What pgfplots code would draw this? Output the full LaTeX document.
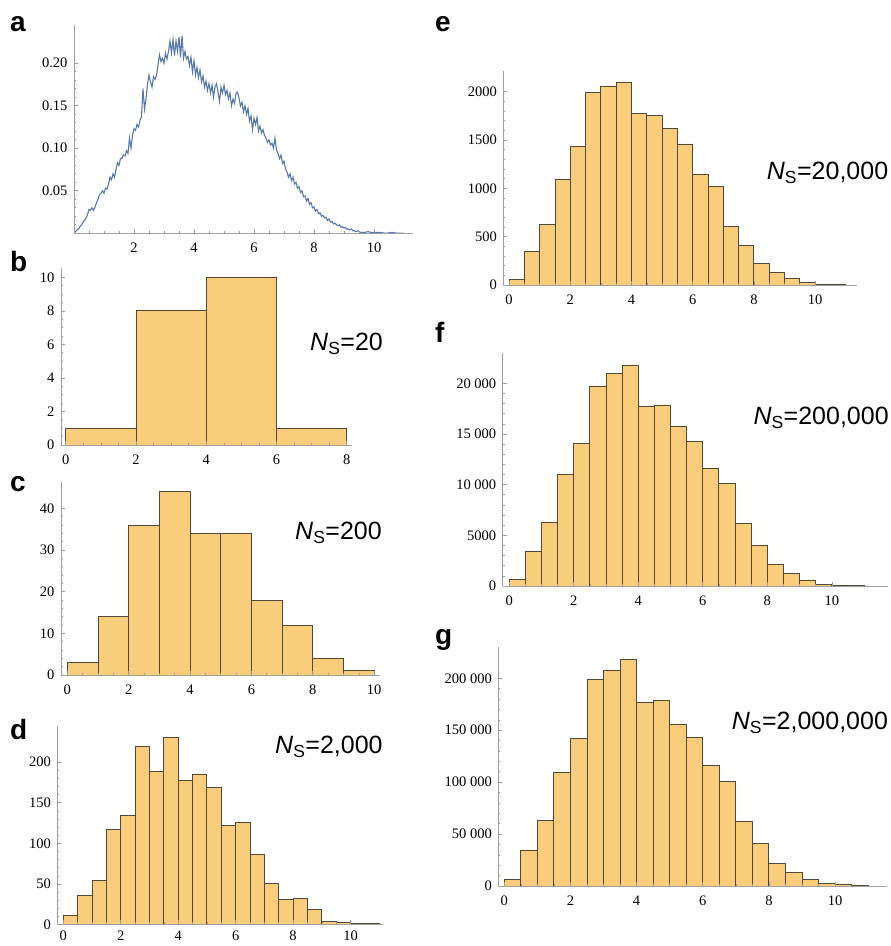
\documentclass[border=0pt]{standalone}
\usepackage{fontspec}
\setmainfont{Liberation Serif}
\newfontfamily\hv{Liberation Sans}
\usepackage{pgfplots}
\pgfplotsset{compat=1.18}
\definecolor{barfill}{RGB}{249,205,124}
\definecolor{baredge}{RGB}{80,72,56}
\definecolor{curveblue}{RGB}{88,120,172}
\pgfplotsset{
  mma/.style={
    scale only axis,
    axis on top,
    axis lines=left,
    axis line style={-, draw=gray!75, line width=0.8pt},
    tick align=inside,
    major tick length=4pt,
    minor tick length=2pt,
    every tick/.style={gray!80, line width=0.6pt},
    tick label style={font=\fontsize{14.5}{16}\selectfont},
    /pgf/number format/assume math mode=true,
    /pgf/number format/1000 sep={},
    scaled y ticks=false,
    xticklabel style={yshift=-6pt},
    yticklabel style={xshift=-3pt},
    minor x tick num=3,
    minor y tick num=4,
    clip=false,
  },
  hist/.style={ybar interval, fill=barfill, draw=baredge, line width=0.9pt},
}
\tikzset{
  ns/.style={anchor=base west, inner sep=0pt, font=\hv\fontsize{25}{30}\selectfont},
  pl/.style={anchor=base west, inner sep=0pt, font=\hv\bfseries\fontsize{28}{32}\selectfont},
}
\begin{document}
\begin{tikzpicture}[x=1pt,y=1pt]
\useasboundingbox (0,0) rectangle (891,946);

% ---------- a ----------
\begin{axis}[mma, at={(74pt,712.7pt)}, anchor=south west,
  width=339pt, height=208.3pt,
  xmin=0, xmax=11.3, ymin=0, ymax=0.245,
  xtick={0,2,4,6,8,10}, xticklabels={,2,4,6,8,10},
  ytick={0,0.05,0.10,0.15,0.20}, yticklabels={,0.05,0.10,0.15,0.20}]
\addplot[color=curveblue, line width=1.1pt] coordinates {
(0.00,0.000)(0.05,0.002)(0.10,0.004)(0.15,0.005)(0.20,0.008)(0.25,0.010)(0.30,0.013)(0.35,0.015)(0.40,0.018)(0.45,0.022)
(0.50,0.028)(0.55,0.027)(0.60,0.030)(0.65,0.027)(0.70,0.031)(0.75,0.036)(0.80,0.040)(0.85,0.045)(0.90,0.047)(0.95,0.050)
(1.00,0.047)(1.05,0.053)(1.10,0.052)(1.15,0.058)(1.20,0.066)(1.25,0.063)(1.30,0.070)(1.35,0.066)(1.40,0.075)(1.45,0.083)
(1.50,0.080)(1.55,0.088)(1.60,0.088)(1.65,0.092)(1.70,0.091)(1.75,0.097)(1.80,0.094)(1.85,0.112)(1.90,0.100)(1.95,0.115)
(2.00,0.123)(2.05,0.121)(2.10,0.128)(2.15,0.125)(2.20,0.133)(2.25,0.137)(2.30,0.170)(2.35,0.146)(2.40,0.158)(2.45,0.175)
(2.50,0.186)(2.55,0.178)(2.60,0.172)(2.65,0.184)(2.70,0.181)(2.75,0.186)(2.80,0.198)(2.85,0.210)(2.90,0.202)(2.95,0.206)
(3.00,0.200)(3.05,0.212)(3.10,0.205)(3.15,0.214)(3.20,0.226)(3.25,0.212)(3.30,0.228)(3.35,0.209)(3.40,0.226)(3.45,0.214)
(3.50,0.231)(3.55,0.207)(3.60,0.232)(3.65,0.206)(3.70,0.214)(3.75,0.205)(3.80,0.208)(3.85,0.197)(3.90,0.207)(3.95,0.190)
(4.00,0.203)(4.05,0.186)(4.10,0.195)(4.15,0.183)(4.20,0.192)(4.25,0.178)(4.30,0.185)(4.35,0.172)(4.40,0.179)(4.45,0.168)
(4.50,0.176)(4.55,0.165)(4.60,0.174)(4.65,0.160)(4.70,0.172)(4.75,0.176)(4.80,0.166)(4.85,0.155)(4.90,0.172)(4.95,0.165)
(5.00,0.174)(5.05,0.163)(5.10,0.168)(5.15,0.158)(5.20,0.165)(5.25,0.150)(5.30,0.158)(5.35,0.153)(5.40,0.164)(5.45,0.166)
(5.50,0.159)(5.55,0.150)(5.60,0.154)(5.65,0.143)(5.70,0.150)(5.75,0.140)(5.80,0.147)(5.85,0.132)(5.90,0.138)(5.95,0.122)
(6.00,0.135)(6.05,0.128)(6.10,0.136)(6.15,0.120)(6.20,0.126)(6.25,0.118)(6.30,0.122)(6.35,0.115)(6.40,0.112)(6.45,0.107)
(6.50,0.110)(6.55,0.104)(6.60,0.106)(6.65,0.100)(6.70,0.112)(6.75,0.098)(6.80,0.094)(6.85,0.088)(6.90,0.092)(6.95,0.082)
(7.00,0.085)(7.05,0.076)(7.10,0.072)(7.15,0.066)(7.20,0.070)(7.25,0.062)(7.30,0.066)(7.35,0.058)(7.40,0.060)(7.45,0.053)
(7.50,0.055)(7.55,0.048)(7.60,0.050)(7.65,0.043)(7.70,0.044)(7.75,0.038)(7.80,0.041)(7.85,0.034)(7.90,0.036)(7.95,0.030)
(8.00,0.031)(8.05,0.026)(8.10,0.028)(8.15,0.023)(8.20,0.024)(8.25,0.020)(8.30,0.021)(8.35,0.018)(8.40,0.019)(8.45,0.015)
(8.50,0.017)(8.55,0.013)(8.60,0.014)(8.65,0.011)(8.70,0.012)(8.75,0.010)(8.80,0.009)(8.85,0.010)(8.90,0.007)(8.95,0.008)
(9.00,0.006)(9.05,0.007)(9.10,0.005)(9.15,0.005)(9.20,0.004)(9.25,0.005)(9.30,0.003)(9.35,0.003)(9.40,0.002)(9.45,0.003)
(9.50,0.002)(9.55,0.001)(9.60,0.001)(9.70,0.001)(9.80,0.002)(9.90,0.001)(10.0,0.001)(10.2,0.001)(10.4,0.000)(10.6,0.001)
(10.8,0.000)(11.0,0.000)
};
\end{axis}

% ---------- b ----------
\begin{axis}[mma, at={(61pt,501pt)}, anchor=south west,
  width=290.7pt, height=176.7pt,
  xmin=-0.134, xmax=8.14, ymin=0, ymax=10.54,
  xtick={0,2,4,6,8}, ytick={0,2,4,6,8,10}, minor y tick num=3]
\addplot[hist] coordinates {(0,1)(2,8)(4,10)(6,1)(8,1)};
\end{axis}

% ---------- c ----------
\begin{axis}[mma, at={(61pt,271pt)}, anchor=south west,
  width=319pt, height=193.3pt,
  xmin=-0.205, xmax=10.19, ymin=0, ymax=46.4,
  xtick={0,2,4,6,8,10}, ytick={0,10,20,30,40}]
\addplot[hist] coordinates {(0,3)(1,14)(2,36)(3,44)(4,34)(5,34)(6,18)(7,12)(8,4)(9,1)(10,1)};
\end{axis}

% ---------- d ----------
\begin{axis}[mma, at={(57.3pt,21.5pt)}, anchor=south west,
  width=326pt, height=198pt,
  xmin=-0.21, xmax=11.14, ymin=0, ymax=244,
  xtick={0,2,4,6,8,10}, ytick={0,50,100,150,200},
  xticklabel style={yshift=3pt}]
\addplot[hist] coordinates {(0,11)(0.5,36)(1,54)(1.5,117)(2,134)(2.5,219)(3,189)(3.5,231)(4,178)(4.5,185)(5,169)(5.5,122)(6,126)(6.5,86)(7,50)(7.5,31)(8,32)(8.5,19)(9,4)(9.5,2)(10,1)(10.5,1)(11,1)};
\end{axis}

% ---------- e ----------
\begin{axis}[mma, at={(503.3pt,661pt)}, anchor=south west,
  width=353.4pt, height=214.3pt,
  xmin=-0.19, xmax=11.36, ymin=0, ymax=2217,
  xtick={0,2,4,6,8,10}, ytick={0,500,1000,1500,2000}]
\addplot[hist] coordinates {(0,60)(0.5,352)(1,628)(1.5,1097)(2,1431)(2.5,1993)(3,2059)(3.5,2100)(4,1776)(4.5,1755)(5,1621)(5.5,1459)(6,1148)(6.5,1024)(7,610)(7.5,407)(8,224)(8.5,134)(9,69)(9.5,24)(10,7)(10.5,3)(11,3)};
\end{axis}

% ---------- f ----------
\begin{axis}[mma, at={(502.7pt,360pt)}, anchor=south west,
  width=385.6pt, height=233.3pt,
  xmin=-0.2, xmax=11.75, ymin=0, ymax=23023,
  xtick={0,2,4,6,8,10}, ytick={0,5000,10000,15000,20000},
  yticklabels={0,5000,10~000,15~000,20~000}]
\addplot[hist] coordinates {(0,658)(0.5,3454)(1,6317)(1.5,11021)(2,14048)(2.5,19740)(3,20990)(3.5,21813)(4,17700)(4.5,17865)(5,15792)(5.5,14279)(6,11647)(6.5,10133)(7,6185)(7.5,4014)(8,2139)(8.5,1250)(9,592)(9.5,197)(10,99)(10.5,66)(11,66)};
\end{axis}

% ---------- g ----------
\begin{axis}[mma, at={(498.3pt,60pt)}, anchor=south west,
  width=388.4pt, height=239.3pt,
  xmin=-0.18, xmax=11.56, ymin=0, ymax=230443,
  xtick={0,2,4,6,8,10}, ytick={0,50000,100000,150000,200000},
  yticklabels={0,50~000,100~000,150~000,200~000}]
\addplot[hist] coordinates {(0,6420)(0.5,34668)(1,62916)(1.5,109782)(2,141882)(2.5,199020)(3,207687)(3.5,218280)(4,177192)(4.5,178797)(5,156006)(5.5,143487)(6,116202)(6.5,100473)(7,61953)(7.5,41088)(8,21828)(8.5,13161)(9,6420)(9.5,2568)(10,1284)(10.5,642)(11,642)};
\end{axis}

% panel letters
\node[pl] at (10,914) {a};
\node[pl] at (10,674) {b};
\node[pl] at (10,454) {c};
\node[pl] at (10,206) {d};
\node[pl] at (435,914) {e};
\node[pl] at (435,603) {f};
\node[pl] at (435,301) {g};

% sample sizes
\node[ns] at (310,595) {\textit{N}\textsubscript{S}=20};
\node[ns] at (295,406.7) {\textit{N}\textsubscript{S}=200};
\node[ns] at (275,192.7) {\textit{N}\textsubscript{S}=2,000};
\node[ns] at (766.7,766) {\textit{N}\textsubscript{S}=20,000};
\node[ns] at (753.3,521) {\textit{N}\textsubscript{S}=200,000};
\node[ns] at (731.7,216.7) {\textit{N}\textsubscript{S}=2,000,000};
\end{tikzpicture}
\end{document}
